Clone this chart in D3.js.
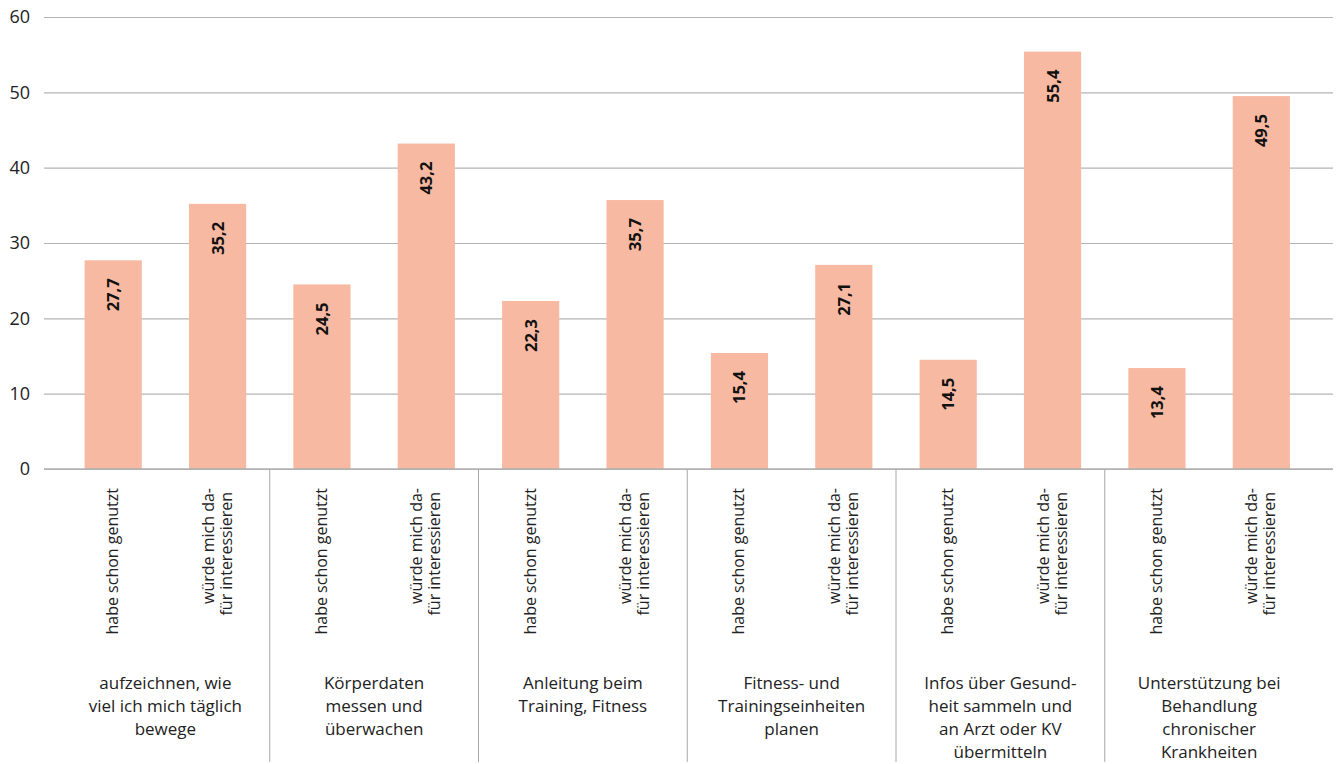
<!DOCTYPE html>
<html>
<head>
<meta charset="utf-8">
<script src="https://cdn.jsdelivr.net/npm/d3@7"></script>
<style>
  html, body { margin: 0; padding: 0; background: #fff; }
  svg { display: block; font-family: "Open Sans", "Noto Sans", sans-serif; }
</style>
</head>
<body>
<svg id="chart" width="1339" height="764"></svg>
<script>
// Topic groups (each split into two answers)
const groups = [
  ["aufzeichnen, wie", "viel ich mich täglich", "bewege"],
  ["Körperdaten", "messen und", "überwachen"],
  ["Anleitung beim", "Training, Fitness"],
  ["Fitness- und", "Trainingseinheiten", "planen"],
  ["Infos über Gesund-", "heit sammeln und", "an Arzt oder KV", "übermitteln"],
  ["Unterstützung bei", "Behandlung", "chronischer", "Krankheiten"]
];
// Answer labels within every group
const answers = [
  ["habe schon genutzt"],
  ["würde mich da-", "für interessieren"]
];
// Percent values per group: [habe schon genutzt, würde mich dafür interessieren]
const usedValues = [27.7, 24.5, 22.3, 15.4, 14.5, 13.4];
const interestValues = [35.2, 43.2, 35.7, 27.1, 55.4, 49.5];
const yTicks = [0, 10, 20, 30, 40, 50, 60];

const svg = d3.select("#chart");

const bars = [];
groups.forEach((g, gi) => {
  bars.push({ key: gi + "-0", group: gi, answer: 0, value: usedValues[gi] });
  bars.push({ key: gi + "-1", group: gi, answer: 1, value: interestValues[gi] });
});

const x = d3.scaleBand()
  .domain(bars.map(d => d.key))
  .range([61, 1313.5])
  .paddingInner(0.452)
  .paddingOuter(0.226);

const xGroup = d3.scaleBand()
  .domain(groups.map((g, i) => i))
  .range([61, 1313.5]);

const y = d3.scaleLinear().domain([0, 60]).range([469, 17]);

// Horizontal gridlines
const gridAxis = d3.axisLeft(y).tickValues(yTicks).tickSize(-(1333 - 44)).tickFormat("");
const grid = svg.append("g").attr("transform", "translate(44,0)").call(gridAxis);
grid.select(".domain").remove();
grid.selectAll(".tick line").attr("stroke", "#b4b4b4").attr("stroke-width", 1.2);

// Y tick labels
const yAxis = d3.axisLeft(y).tickValues(yTicks).tickSize(0).tickPadding(0);
const ya = svg.append("g").attr("transform", "translate(30,0)").call(yAxis);
ya.select(".domain").remove();
ya.selectAll(".tick text")
  .attr("font-size", 18)
  .attr("fill", "#222")
  .attr("font-family", "Open Sans, sans-serif");

// Bars
svg.append("g").selectAll("rect")
  .data(bars)
  .join("rect")
  .attr("x", d => x(d.key))
  .attr("width", x.bandwidth())
  .attr("y", d => y(d.value))
  .attr("height", d => y(0) - y(d.value))
  .attr("fill", "#F7B9A2");

// Value labels, rotated inside the bar top
svg.append("g").selectAll("text")
  .data(bars)
  .join("text")
  .attr("transform", d => `translate(${x(d.key) + x.bandwidth() / 2 + 6},${y(d.value) + 18}) rotate(-90)`)
  .attr("text-anchor", "end")
  .attr("font-size", 16.5)
  .attr("font-weight", "bold")
  .attr("fill", "#111")
  .text(d => d.value.toFixed(1).replace(".", ","));

// Zero baseline
svg.append("line")
  .attr("x1", 44).attr("x2", 1333)
  .attr("y1", y(0)).attr("y2", y(0))
  .attr("stroke", "#b0b0b0").attr("stroke-width", 1.5);

// Group separators
svg.append("g").selectAll("line")
  .data(groups.slice(1).map((g, i) => i + 1))
  .join("line")
  .attr("x1", d => xGroup(d)).attr("x2", d => xGroup(d))
  .attr("y1", y(0)).attr("y2", 762)
  .attr("stroke", "#a8a8a8").attr("stroke-width", 1);

// Rotated answer labels
const ansG = svg.append("g").selectAll("g")
  .data(bars)
  .join("g")
  .attr("transform", d => {
    const lines = answers[d.answer].length;
    const cx = x(d.key) + x.bandwidth() / 2 + 5 - (lines - 1) * 9;
    return `translate(${cx},488) rotate(-90)`;
  });
ansG.each(function(d) {
  d3.select(this).selectAll("text")
    .data(answers[d.answer])
    .join("text")
    .attr("x", (t, i) => -i * 4)
    .attr("y", (t, i) => i * 18)
    .attr("text-anchor", "end")
    .attr("font-size", 16)
    .attr("fill", "#222")
    .text(t => t);
});

// Group labels
const grpText = svg.append("g").selectAll("text")
  .data(groups)
  .join("text")
  .attr("text-anchor", "middle")
  .attr("font-size", 17)
  .attr("fill", "#222")
  .attr("x", (g, i) => xGroup(i) + xGroup.bandwidth() / 2)
  .attr("y", 689);
grpText.selectAll("tspan")
  .data(g => g)
  .join("tspan")
  .attr("x", function() { return d3.select(this.parentNode).attr("x"); })
  .attr("dy", (t, i) => i === 0 ? 0 : 23)
  .text(t => t);
</script>
</body>
</html>
